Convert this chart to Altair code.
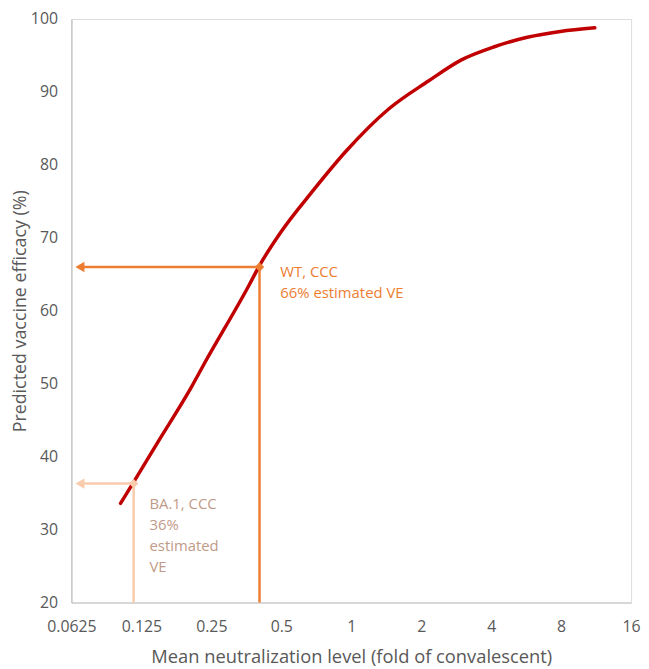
import altair as alt
import pandas as pd

# Curve (fold of convalescent, predicted VE %)
curve_x = [0.1017, 0.1158, 0.1479, 0.2049, 0.2337, 0.3632, 0.4029, 0.4958, 0.686,
           0.951, 1.453, 2.148, 2.98, 4.13, 5.72, 7.93, 11.17]
curve_ve = [33.6, 36.5, 42.1, 49.5, 52.8, 63.5, 66.2, 70.7, 76.5,
            81.9, 87.7, 91.5, 94.4, 96.2, 97.5, 98.3, 98.8]

# Highlighted estimates
pt_names = ["WT, CCC", "BA.1, CCC"]
pt_x = [0.403, 0.1158]
pt_ve = [66, 36.3]
pt_labels = ["WT, CCC\n66% estimated VE", "BA.1, CCC\n36%\nestimated\nVE"]
pt_colors = ["#ED7D31", "#F8CBAD"]
txt_colors = ["#ED7D31", "#BF9A88"]
arrow_x = [0.068, 0.068]

x_ticks = [0.0625, 0.125, 0.25, 0.5, 1, 2, 4, 8, 16]
y_ticks = [20, 30, 40, 50, 60, 70, 80, 90, 100]

FONT = "Open Sans"

curve = pd.DataFrame({"x": curve_x, "ve": curve_ve})
pts = pd.DataFrame({"name": pt_names, "x": pt_x, "ve": pt_ve, "label": pt_labels,
                    "col": pt_colors, "tcol": txt_colors, "ax": arrow_x,
                    "y0": [20, 20]})

xs = alt.Scale(type="log", base=2, domain=[0.0625, 16], nice=False)
ys = alt.Scale(domain=[20, 100], nice=False, zero=False)

xaxis = alt.Axis(values=x_ticks, labelExpr="datum.value", grid=False, ticks=False,
                 domainColor="#BFBFBF", domainWidth=1.2, labelColor="#595959",
                 labelFontSize=16, labelFont=FONT, labelPadding=16,
                 title="Mean neutralization level (fold of convalescent)",
                 titleFont=FONT, titleFontSize=18.5, titleFontWeight="normal",
                 titleColor="#595959", titlePadding=14, labelFlush=False)
yaxis = alt.Axis(values=y_ticks, grid=False, ticks=False,
                 domainColor="#BFBFBF", domainWidth=1.2, labelColor="#595959",
                 labelFontSize=16, labelFont=FONT, labelPadding=14,
                 title="Predicted vaccine efficacy (%)",
                 titleFont=FONT, titleFontSize=18, titleFontWeight="normal",
                 titleColor="#595959", titlePadding=1)

base_x = alt.X("x:Q", scale=xs, axis=xaxis)
base_y = alt.Y("ve:Q", scale=ys, axis=yaxis)

line = alt.Chart(curve).mark_line(color="#C00000", strokeWidth=3.5,
                                  interpolate="monotone", strokeCap="round").encode(
    x=base_x, y=base_y)

hrule = alt.Chart(pts).mark_rule(strokeWidth=2.5).encode(
    x=alt.X("ax:Q", scale=xs), x2="x:Q", y=alt.Y("ve:Q", scale=ys),
    color=alt.Color("col:N", scale=None))
vrule = alt.Chart(pts).mark_rule(strokeWidth=2.5).encode(
    x=alt.X("x:Q", scale=xs), y=alt.Y("y0:Q", scale=ys), y2="ve:Q",
    color=alt.Color("col:N", scale=None))
heads = alt.Chart(pts).mark_point(shape="triangle-left", filled=True, opacity=1,
                                  size=110).encode(
    x=alt.X("ax:Q", scale=xs), y=alt.Y("ve:Q", scale=ys),
    color=alt.Color("col:N", scale=None))
dots = alt.Chart(pts).mark_point(shape="diamond", filled=True, opacity=1,
                                 size=90).encode(
    x=alt.X("x:Q", scale=xs), y=alt.Y("ve:Q", scale=ys),
    color=alt.Color("col:N", scale=None))

wt_text = alt.Chart(pts).transform_filter(alt.datum.name == "WT, CCC").mark_text(
    align="left", baseline="top", dx=21, dy=-2, font=FONT, fontSize=15,
    lineBreak="\n", lineHeight=21).encode(
    x=alt.X("x:Q", scale=xs), y=alt.Y("ve:Q", scale=ys), text="label:N",
    color=alt.Color("tcol:N", scale=None))
ba_text = alt.Chart(pts).transform_filter(alt.datum.name == "BA.1, CCC").mark_text(
    align="left", baseline="top", dx=16, dy=14, font=FONT, fontSize=15,
    lineBreak="\n", lineHeight=21).encode(
    x=alt.X("x:Q", scale=xs), y=alt.Y("ve:Q", scale=ys), text="label:N",
    color=alt.Color("tcol:N", scale=None))

chart = alt.layer(hrule, vrule, heads, line, dots, wt_text, ba_text).properties(
    width=565, height=589,
    autosize=alt.AutoSizeParams(type="none"),
    padding={"left": 64, "top": 8, "right": 10, "bottom": 63},
).configure_view(stroke=None).configure(background="white")

chart.save("out.html", embed_options={"renderer": "svg", "actions": False})
